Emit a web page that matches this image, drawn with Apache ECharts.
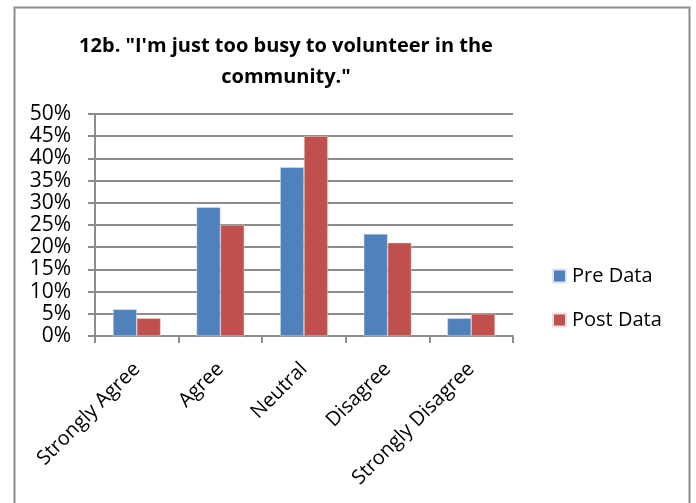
<!DOCTYPE html>
<html>
<head>
<meta charset="utf-8">
<script src="https://cdn.jsdelivr.net/npm/echarts@6/dist/echarts.min.js"></script>
<style>
  html, body { margin: 0; padding: 0; background: #fff; }
  #main { width: 696px; height: 503px; }
</style>
</head>
<body>
<div id="main"></div>
<script>
var categories = ["Strongly Agree", "Agree", "Neutral", "Disagree", "Strongly Disagree"];
var preData = [6, 29, 38, 23, 4];
var postData = [4, 25, 45, 21, 5];
var seriesNames = ["Pre Data", "Post Data"];
var titleLines = ["12b. \"I'm just too busy to volunteer in the", "community.\""];

var font = "Open Sans";
var chart = echarts.init(document.getElementById("main"));

var option = {
  animation: false,
  color: ["#4F81BD", "#C0504D"],
  textStyle: { fontFamily: font },
  title: {
    text: titleLines.join("\n"),
    left: 281,
    top: 26,
    textAlign: "center",
    textStyle: { fontFamily: font, fontSize: 20, fontWeight: "bold", color: "#000", lineHeight: 31 }
  },
  legend: {
    orient: "vertical",
    left: 547,
    top: 261,
    itemWidth: 13,
    itemHeight: 13,
    itemGap: 24,
    icon: "rect",
    textStyle: { fontFamily: font, fontSize: 20, color: "#000", padding: [0, 0, 0, 1] },
    data: seriesNames
  },
  grid: { left: 95, top: 114, width: 418, height: 222 },
  xAxis: {
    type: "category",
    data: categories,
    axisLine: { lineStyle: { color: "#8c8c8c", width: 2 } },
    axisTick: { show: true, length: 7, lineStyle: { color: "#8c8c8c", width: 2 } },
    axisLabel: { rotate: 45, fontFamily: font, fontSize: 20, color: "#000", margin: 30, interval: 0 }
  },
  yAxis: {
    type: "value",
    min: 0,
    max: 50,
    interval: 5,
    axisLine: { show: true, lineStyle: { color: "#8c8c8c", width: 2 } },
    axisTick: { show: true, length: 7, lineStyle: { color: "#8c8c8c", width: 2 } },
    splitLine: { lineStyle: { color: "#8c8c8c", width: 2 } },
    axisLabel: { formatter: "{value}%", fontFamily: font, fontSize: 21, color: "#000", margin: 24 }
  },
  series: [
    {
      name: seriesNames[0],
      type: "bar",
      data: preData,
      barGap: "0%",
      barCategoryGap: "43%",
      itemStyle: { borderColor: "#dbe5f1", borderWidth: 0.5 }
    },
    {
      name: seriesNames[1],
      type: "bar",
      data: postData,
      barGap: "0%",
      barCategoryGap: "43%",
      itemStyle: { borderColor: "#f2dcdb", borderWidth: 0.5 }
    }
  ],
  graphic: [
    {
      type: "rect",
      shape: { x: 14.5, y: 7.5, width: 675, height: 510 },
      style: { fill: null, stroke: "#8c8c8c", lineWidth: 2 },
      silent: true
    }
  ]
};

chart.setOption(option);
</script>
</body>
</html>
